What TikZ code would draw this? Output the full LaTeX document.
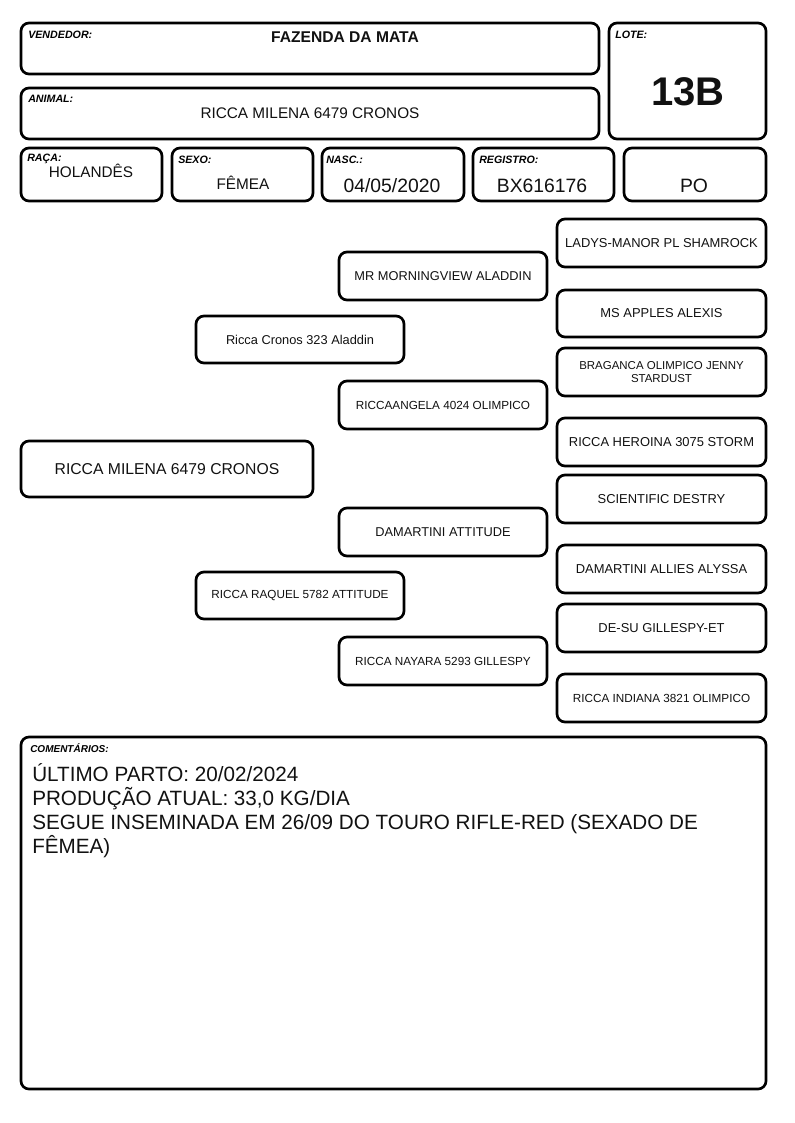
\documentclass[tikz,border=0pt]{standalone}
\usepackage{fontspec}
\setmainfont{Liberation Sans}
\usepackage{xcolor}
\usepackage{tikz}
\usetikzlibrary{positioning}
\definecolor{inkline}{HTML}{000000}
\definecolor{inktext}{HTML}{111111}
\tikzset{
  cell/.style={draw=inkline,line width=2pt,rounded corners=6pt,fill=white,align=center,inner sep=2pt,text=inktext},
  lbl/.style={font=\fontsize{8}{9}\selectfont\bfseries\itshape,inner sep=0pt,anchor=base west},
  val/.style={font=\fontsize{11.5}{13}\selectfont,inner sep=0pt,anchor=base,text=inktext}
}
% rounded box from (x1,y1) to (x2,y2), pixel units, y downwards
\newcommand{\rbox}[7][]{%
  \node[cell,#1,minimum width={(#5-#3)*0.75pt},minimum height={(#6-#4)*0.75pt}] (#2) at ({(#3+#5)/2},{(#4+#6)/2}) {#7};}

\begin{document}
\begin{tikzpicture}[x=0.75pt,y=-0.75pt]
\useasboundingbox (0,0) rectangle (794,1123);
% header
\rbox{vend}{21}{23}{599}{74}{}
\rbox{anim}{21}{88}{599}{139}{}
\rbox{lote}{609}{23}{766}{139}{}
\node[lbl] (vendl) at (28,39) {VENDEDOR:};
\node[val,font=\fontsize{11.7}{13}\selectfont\bfseries] (vendv) at (345,43) {FAZENDA DA MATA};
\node[lbl] (animl) at (28,103) {ANIMAL:};
\node[val] (animv) at (310,119) {RICCA MILENA 6479 CRONOS};
\node[lbl] (lotel) at (615,39) {LOTE:};
\node[val,font=\fontsize{30}{34}\selectfont\bfseries] (lotev) at (688,106) {13B};
% second row
\rbox{raca}{21}{148}{162}{201}{}
\rbox{sexo}{172}{148}{313}{201}{}
\rbox{nasc}{322}{148}{464}{201}{}
\rbox{regi}{473}{148}{614}{201}{}
\rbox{cate}{624}{148}{766}{201}{}
\node[lbl] (racal) at (27,162) {RAÇA:};
\node[val] (racav) at (91,178) {HOLANDÊS};
\node[lbl] (sexol) at (178,164) {SEXO:};
\node[val] (sexov) at (243,190) {FÊMEA};
\node[lbl] (nascl) at (326,164) {NASC.:};
\node[val,font=\fontsize{14.5}{16}\selectfont] (nascv) at (392,193) {04/05/2020};
\node[lbl] (regil) at (479,164) {REGISTRO:};
\node[val,font=\fontsize{14.5}{16}\selectfont] (regiv) at (542,193) {BX616176};
\node[val,font=\fontsize{14.5}{16}\selectfont] (catev) at (694,193) {PO};
% pedigree
\rbox[font=\fontsize{11.8}{14}\selectfont]{anim0}{21}{441}{313}{497}{RICCA MILENA 6479 CRONOS}
\rbox[font=\fontsize{9.6}{11}\selectfont]{sire}{196}{316}{404}{363}{Ricca Cronos 323 Aladdin}
\rbox[font=\fontsize{8.8}{10}\selectfont]{dam}{196}{572}{404}{619}{RICCA RAQUEL 5782 ATTITUDE}
\rbox[font=\fontsize{9.6}{11}\selectfont]{ss}{339}{252}{547}{300}{MR MORNINGVIEW ALADDIN}
\rbox[font=\fontsize{8.8}{10}\selectfont]{sd}{339}{381}{547}{429}{RICCAANGELA 4024 OLIMPICO}
\rbox[font=\fontsize{9.6}{11}\selectfont]{ds}{339}{508}{547}{556}{DAMARTINI ATTITUDE}
\rbox[font=\fontsize{8.8}{10}\selectfont]{dd}{339}{637}{547}{685}{RICCA NAYARA 5293 GILLESPY}
\rbox[font=\fontsize{9.7}{11}\selectfont]{sss}{557}{219}{766}{267}{LADYS-MANOR PL SHAMROCK}
\rbox[font=\fontsize{9.7}{11}\selectfont]{ssd}{557}{290}{766}{337}{MS APPLES ALEXIS}
\rbox[font=\fontsize{8.6}{10}\selectfont]{sds}{557}{348}{766}{396}{BRAGANCA OLIMPICO JENNY\\STARDUST}
\rbox[font=\fontsize{9.7}{11}\selectfont]{sdd}{557}{418}{766}{466}{RICCA HEROINA 3075 STORM}
\rbox[font=\fontsize{9.7}{11}\selectfont]{dss}{557}{475}{766}{523}{SCIENTIFIC DESTRY}
\rbox[font=\fontsize{9.7}{11}\selectfont]{dsd}{557}{545}{766}{593}{DAMARTINI ALLIES ALYSSA}
\rbox[font=\fontsize{9.7}{11}\selectfont]{dds}{557}{604}{766}{652}{DE-SU GILLESPY-ET}
\rbox[font=\fontsize{8.8}{10}\selectfont]{ddd}{557}{674}{766}{722}{RICCA INDIANA 3821 OLIMPICO}
% comments
\rbox{coment}{21}{737}{766}{1089}{}
\node[lbl,font=\fontsize{7.5}{8}\selectfont\bfseries\itshape] (comentl) at (30,752) {COMENTÁRIOS:};
\node[inner sep=0pt,anchor=north west,align=left,font=\fontsize{15.5}{18}\selectfont,text=inktext] (comentv) at (32,763)
  {ÚLTIMO PARTO: 20/02/2024\\PRODUÇÃO ATUAL: 33,0 KG/DIA\\SEGUE INSEMINADA EM 26/09 DO TOURO RIFLE-RED (SEXADO DE\\FÊMEA)};
\end{tikzpicture}
\end{document}
